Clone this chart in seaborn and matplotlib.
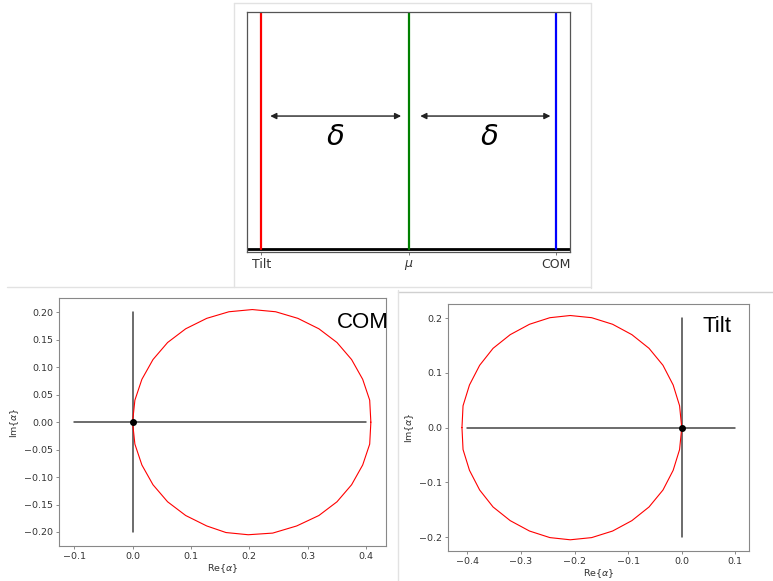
import matplotlib
matplotlib.use("Agg")
import matplotlib.pyplot as plt
from matplotlib.lines import Line2D
import seaborn as sns
import pandas as pd

sns.set_theme(style="ticks")
plt.rcParams["font.family"] = ["DejaVu Sans"]
plt.rcParams["mathtext.fontset"] = "dejavusans"

# ---- data -------------------------------------------------------------
# schematic: positions of the three reference lines
line_names = ["Tilt", "$\\mu$", "COM"]
line_pos = [-1.0, 0.0, 1.0]
line_colors = ["red", "green", "blue"]

# COM loop in the complex alpha plane
com_re = [0.408, 0.406, 0.394, 0.375, 0.350, 0.319, 0.283, 0.245, 0.205,
          0.165, 0.127, 0.091, 0.060, 0.035, 0.016, 0.004, 0.000,
          0.004, 0.016, 0.035, 0.060, 0.091, 0.127, 0.160, 0.198,
          0.240, 0.281, 0.319, 0.350, 0.375, 0.394, 0.406, 0.408]
com_im = [0.000, 0.040, 0.078, 0.114, 0.145, 0.170, 0.189, 0.201, 0.205,
          0.201, 0.189, 0.170, 0.145, 0.114, 0.078, 0.040, 0.000,
          -0.040, -0.078, -0.114, -0.145, -0.170, -0.189, -0.201, -0.205,
          -0.202, -0.189, -0.170, -0.145, -0.114, -0.078, -0.040, 0.000]

# Tilt loop in the complex alpha plane
tilt_re = [-0.410, -0.408, -0.396, -0.377, -0.352, -0.320, -0.284, -0.246, -0.208,
           -0.168, -0.129, -0.093, -0.061, -0.035, -0.016, -0.004, 0.000,
           -0.004, -0.016, -0.035, -0.061, -0.093, -0.129, -0.168, -0.208,
           -0.246, -0.284, -0.320, -0.352, -0.377, -0.396, -0.408, -0.410]
tilt_im = [0.000, 0.040, 0.078, 0.114, 0.145, 0.170, 0.189, 0.201, 0.205,
           0.201, 0.189, 0.170, 0.145, 0.114, 0.078, 0.040, 0.000,
           -0.040, -0.078, -0.114, -0.145, -0.170, -0.189, -0.201, -0.205,
           -0.201, -0.189, -0.170, -0.145, -0.114, -0.078, -0.040, 0.000]

com_axis_x = [-0.1, 0.4]
tilt_axis_x = [-0.4, 0.1]
axis_y = [-0.2, 0.2]

# ---- figure -------------------------------------------------------------
W, H = 773, 581
fig = plt.figure(figsize=(W / 100, H / 100), dpi=100)
fig.patch.set_facecolor("white")


def px_axes(left, top, right, bottom):
    return fig.add_axes([left / W, 1 - bottom / H, (right - left) / W, (bottom - top) / H])


def frame_line(xs, ys, color="#e2e2e2", lw=1.0):
    fig.add_artist(Line2D([x / W for x in xs], [1 - y / H for y in ys],
                          transform=fig.transFigure, color=color, lw=lw))


# light panel borders
frame_line([234, 591], [3, 3])
frame_line([234, 234], [3, 287])
frame_line([591, 591], [3, 288])
frame_line([7, 591], [287, 287])
frame_line([398, 773], [292, 292], color="#d0d0d0")
frame_line([398, 398], [290, 581])

spine_col = "#777777"
tick_col = "#333333"

# ---- top schematic ------------------------------------------------------
ax0 = px_axes(246.7, 11.7, 570.3, 251.7)
ax0.set_xlim(-1.1, 1.1)
ax0.set_ylim(-0.012, 1.0)
sns.lineplot(x=[-1.1, 1.1], y=[0, 0], ax=ax0, color="black", lw=2.0)
for pos, col in zip(line_pos, line_colors):
    sns.lineplot(x=[pos, pos], y=[0, 1.0], ax=ax0, color=col, lw=1.6,
                 sort=False, estimator=None)
arrow_kw = dict(arrowstyle="<|-|>", color="#222222", lw=1.0, mutation_scale=9,
                shrinkA=0, shrinkB=0)
ax0.annotate("", xy=(-0.05, 0.56), xytext=(-0.94, 0.56), arrowprops=arrow_kw)
ax0.annotate("", xy=(0.965, 0.56), xytext=(0.08, 0.56), arrowprops=arrow_kw)
ax0.text(-0.5, 0.47, "$\\delta$", fontsize=21, ha="center", va="center", color="black")
ax0.text(0.55, 0.47, "$\\delta$", fontsize=21, ha="center", va="center", color="black")
ax0.set_xticks(line_pos)
ax0.set_xticklabels(line_names, fontsize=9, color=tick_col)
ax0.set_yticks([])
ax0.tick_params(axis="x", length=2.5, width=0.7, colors=spine_col, labelcolor=tick_col, pad=2)
for s in ax0.spines.values():
    s.set_color("#555555")
    s.set_linewidth(0.9)


# ---- alpha-plane panels -------------------------------------------------
def alpha_panel(ax, re, im, hx, label, text_x, text_y, ha, yticks, yfmt):
    sns.lineplot(x=hx, y=[0, 0], ax=ax, color="#444444", lw=1.1)
    sns.lineplot(x=[0, 0], y=axis_y, ax=ax, color="#444444", lw=1.1,
                 sort=False, estimator=None)
    df = pd.DataFrame({"re": re, "im": im})
    sns.lineplot(data=df, x="re", y="im", ax=ax, color="red", lw=0.8,
                 sort=False, estimator=None)
    ax.plot([0], [0], "o", color="black", ms=4)
    ax.set_yticks(yticks)
    ax.set_yticklabels([yfmt.format(v).replace("-", "\u2212") for v in yticks])
    ax.tick_params(length=2.5, width=0.6, labelsize=6.8, colors=spine_col,
                   labelcolor=tick_col, pad=2)
    ax.set_xlabel("Re$\\{\\alpha\\}$", fontsize=6.8, color=tick_col, labelpad=1)
    ax.set_ylabel("Im$\\{\\alpha\\}$", fontsize=6.8, color=tick_col, labelpad=2)
    for s in ax.spines.values():
        s.set_color("#888888")
        s.set_linewidth(0.8)
    ax.text(text_x, text_y, label, transform=ax.transAxes, fontsize=16,
            ha=ha, va="baseline", family="Liberation Sans", color="black")


ax1 = px_axes(59.3, 298.3, 385.7, 546.0)
alpha_panel(ax1, com_re, com_im, com_axis_x, "COM", 1.008, 0.881, "right",
            [-0.20, -0.15, -0.10, -0.05, 0.00, 0.05, 0.10, 0.15, 0.20], "{:.2f}")
ax1.set_xlim(-0.1254, 0.4334)
ax1.set_xticks([-0.1, 0.0, 0.1, 0.2, 0.3, 0.4])
ax1.set_xticklabels(["\u22120.1", "0.0", "0.1", "0.2", "0.3", "0.4"])
ax1.set_ylim(-0.2255, 0.2255)

ax2 = px_axes(448.3, 304.3, 749.0, 551.0)
alpha_panel(ax2, tilt_re, tilt_im, tilt_axis_x, "Tilt", 0.845, 0.889, "left",
            [-0.2, -0.1, 0.0, 0.1, 0.2], "{:.1f}")
ax2.set_xlim(-0.4355, 0.1255)
ax2.set_xticks([-0.4, -0.3, -0.2, -0.1, 0.0, 0.1])
ax2.set_xticklabels(["\u22120.4", "\u22120.3", "\u22120.2", "\u22120.1", "0.0", "0.1"])
ax2.set_ylim(-0.2255, 0.2255)

fig.savefig("out.png", dpi=100, facecolor="white")
